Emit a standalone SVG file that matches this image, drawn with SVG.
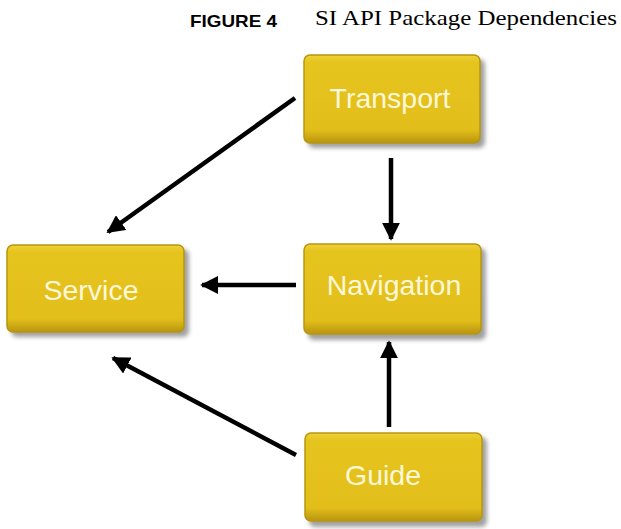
<svg xmlns="http://www.w3.org/2000/svg" width="621" height="529" viewBox="0 0 621 529">
<style>
.title1{font-family:"Liberation Sans",Arial,sans-serif;font-weight:bold;font-size:16.5px;fill:#000}
.title2{font-family:"Liberation Serif","Times New Roman",serif;font-size:21px;fill:#000}
.face{fill:url(#gy);stroke:#B8960C;stroke-width:1.5}
.shadow{fill:#555;opacity:0.55;filter:url(#blur)}
.lbl{font-family:"Liberation Sans",Arial,sans-serif;font-size:28.5px;fill:#FFF8D8;text-anchor:middle}
.conn{stroke:#000;stroke-width:4.5;fill:none;marker-end:url(#ah)}
</style>
<defs>
<linearGradient id="gy" x1="0" y1="0" x2="0" y2="1">
<stop offset="0" stop-color="#EFD23A"/>
<stop offset="0.08" stop-color="#E6C41E"/>
<stop offset="0.85" stop-color="#E2BE1A"/>
<stop offset="1" stop-color="#B89510"/>
</linearGradient>
<filter id="blur" x="-10%" y="-10%" width="130%" height="130%"><feGaussianBlur stdDeviation="2"/></filter>
<marker id="ah" viewBox="0 0 10 10" refX="9" refY="5" markerWidth="4" markerHeight="4" orient="auto" markerUnits="strokeWidth">
<path d="M0,0 L10,5 L0,10 Z" fill="#000"/>
</marker>
</defs>
<rect width="621" height="529" fill="#fff"/>
<text class="title1" x="190" y="27" textLength="87" lengthAdjust="spacingAndGlyphs">FIGURE 4</text>
<text class="title2" x="315" y="25" textLength="302" lengthAdjust="spacingAndGlyphs">SI API Package Dependencies</text>
<g id="connectors">
<line class="conn" x1="295" y1="98" x2="108" y2="232"/>
<line class="conn" x1="391" y1="158" x2="391" y2="239"/>
<line class="conn" x1="296" y1="285" x2="202" y2="285"/>
<line class="conn" x1="389" y1="427" x2="389" y2="342"/>
<line class="conn" x1="296" y1="455" x2="113" y2="358"/>
</g>
<g id="transport">
<rect class="shadow" x="308" y="59" width="177" height="89" rx="6"/>
<rect class="face" x="304" y="55" width="176" height="88" rx="6"/>
<text class="lbl" x="390" y="108">Transport</text>
</g>
<g id="service">
<rect class="shadow" x="11" y="249" width="178" height="88" rx="6"/>
<rect class="face" x="7" y="245" width="177" height="87" rx="6"/>
<text class="lbl" x="91" y="300">Service</text>
</g>
<g id="navigation">
<rect class="shadow" x="308" y="248" width="178" height="92" rx="6"/>
<rect class="face" x="304" y="244" width="177" height="90" rx="6"/>
<text class="lbl" x="394" y="295">Navigation</text>
</g>
<g id="guide">
<rect class="shadow" x="309" y="437" width="178" height="90" rx="6"/>
<rect class="face" x="305" y="433" width="177" height="88" rx="6"/>
<text class="lbl" x="383" y="485">Guide</text>
</g>
</svg>
